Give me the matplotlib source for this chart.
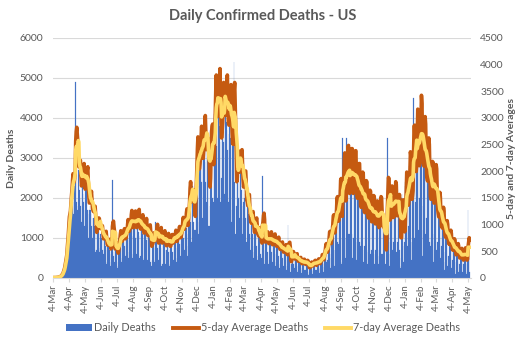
import pandas as pd
import matplotlib.pyplot as plt
from matplotlib.patches import Patch
from matplotlib.lines import Line2D

plt.rcParams['font.family'] = ['Lato', 'DejaVu Sans']

# Daily confirmed deaths, one row per week (Sunday .. Saturday), starting Sun 1 Mar 2020
start_date = "2020-03-01"

deaths_2020 = [
    1, 1, 1, 2, 2, 1, 3,
    3, 4, 6, 7, 9, 11, 14,
    12, 20, 30, 40, 55, 70, 80,
    100, 140, 200, 230, 260, 380, 480,
    450, 560, 900, 1050, 1150, 1300, 1300,
    1200, 1300, 1950, 1950, 1900, 2050, 1900,
    1600, 1500, 2300, 2500, 4900, 2500, 1900,
    1700, 1800, 2700, 2300, 2200, 2000, 1800,
    1200, 1400, 2400, 2600, 2100, 1900, 1700,
    1300, 1300, 2300, 2500, 2300, 1700, 1600,
    1000, 1000, 1700, 1800, 1700, 1600, 1300,
    900, 1000, 1500, 1500, 1300, 1300, 1100,
    650, 500, 700, 1500, 1200, 1200, 1000,
    650, 750, 1100, 1100, 1000, 950, 700,
    400, 600, 1000, 950, 900, 800, 700,
    350, 400, 800, 800, 700, 700, 600,
    300, 400, 850, 800, 2450, 650, 550,
    300, 400, 800, 750, 700, 650, 300,
    250, 400, 1000, 900, 900, 850, 750,
    400, 500, 950, 1000, 950, 900, 800,
    450, 550, 1100, 1150, 1150, 1100, 950,
    500, 650, 1300, 1400, 1300, 1250, 1050,
    500, 600, 1300, 1400, 1300, 1250, 1000,
    550, 600, 1350, 1500, 1350, 1150, 1050,
    500, 550, 1300, 1350, 1200, 1100, 950,
    450, 500, 1200, 1200, 1150, 1050, 950,
    400, 450, 1100, 1050, 1000, 1000, 800,
    400, 300, 450, 1150, 900, 950, 750,
    400, 450, 1400, 1100, 900, 850, 750,
    300, 450, 1000, 1100, 950, 900, 750,
    300, 350, 1000, 950, 850, 900, 700,
    350, 350, 700, 950, 950, 900, 650,
    350, 300, 750, 900, 850, 900, 650,
    400, 450, 900, 1050, 850, 900, 750,
    400, 500, 1000, 1000, 1000, 950, 850,
    400, 550, 1100, 1200, 1150, 1200, 1000,
    500, 700, 1500, 1400, 1200, 1250, 1100,
    550, 800, 1700, 2000, 2000, 1900, 1400,
    900, 900, 2200, 2300, 1100, 1400, 1200,
    850, 1200, 2600, 2800, 2900, 2600, 2300,
    1100, 1400, 2800, 3100, 3000, 2900, 2400,
    1400, 1500, 3000, 3600, 3300, 2900, 2400,
    1500, 1900, 3400, 3400, 2900, 1300, 1200,
    1300, 1800, 3700, 3400, 3400, 1900, 2000,
]

deaths_2021 = [
    1400, 1900, 3700, 4100, 4000, 3900, 3300,
    1900, 2000, 4400, 4100, 3900, 3800, 3400,
    1900, 1500, 2500, 4400, 4200, 3800, 3400,
    1800, 2100, 4100, 4100, 3900, 3700, 3200,
    1900, 1900, 3600, 3900, 4400, 3500, 2700,
    1400, 1700, 3300, 3400, 3800, 5400, 2400,
    1100, 1100, 1800, 2600, 2800, 2700, 2000,
    1300, 1500, 2400, 3000, 2600, 2200, 1800,
    1100, 1500, 1900, 2500, 2000, 2100, 1500,
    750, 900, 1900, 1700, 1600, 1500, 1100,
    600, 700, 1300, 1400, 1600, 1100, 800,
    500, 650, 1200, 1300, 1200, 1100, 800,
    450, 550, 1100, 1000, 1100, 900, 600,
    300, 500, 950, 2550, 950, 900, 700,
    350, 450, 950, 950, 900, 850, 650,
    350, 450, 950, 950, 900, 850, 650,
    300, 400, 900, 900, 900, 800, 600,
    300, 400, 850, 850, 800, 750, 550,
    250, 350, 750, 750, 700, 650, 500,
    250, 300, 700, 700, 650, 600, 450,
    200, 300, 600, 1320, 550, 500, 350,
    150, 150, 350, 700, 550, 500, 350,
    150, 250, 500, 550, 450, 450, 300,
    150, 200, 450, 450, 400, 350, 250,
    120, 200, 400, 400, 380, 350, 200,
    120, 200, 400, 380, 350, 300, 150,
    80, 100, 300, 350, 320, 300, 200,
    100, 180, 380, 400, 330, 320, 200,
    110, 200, 420, 400, 380, 350, 220,
    120, 250, 500, 500, 450, 450, 280,
    150, 350, 700, 750, 700, 650, 400,
    200, 450, 950, 1050, 950, 900, 500,
    250, 600, 1300, 1400, 1300, 1200, 700,
    300, 700, 1700, 1800, 1600, 1600, 900,
    350, 850, 2100, 2200, 2000, 2000, 1000,
    350, 400, 3500, 2500, 2400, 2300, 1000,
    500, 1000, 3500, 2700, 2600, 2500, 1100,
    600, 1100, 2800, 2900, 2700, 2600, 1100,
    500, 1000, 2800, 2800, 2700, 2600, 1000,
    450, 900, 2500, 2600, 2400, 2300, 900,
    400, 800, 2200, 2600, 2200, 2100, 700,
    400, 800, 2100, 2200, 2000, 2000, 650,
    350, 700, 1900, 2000, 1800, 1800, 600,
    350, 700, 1800, 1800, 1700, 1700, 600,
    350, 700, 1700, 1700, 1600, 1500, 550,
    350, 700, 1800, 1800, 1700, 1600, 600,
    350, 600, 1700, 1600, 400, 900, 350,
    250, 700, 1600, 3500, 1900, 1700, 600,
    300, 900, 2000, 2000, 1900, 1800, 700,
    350, 900, 2100, 2100, 2000, 1900, 650,
    350, 900, 2100, 2100, 2000, 700, 300,
    250, 500, 2000, 2100, 1900, 800, 400,
]

deaths_2022 = [
    300, 900, 2300, 2400, 2200, 2100, 800,
    400, 1300, 2600, 2800, 2600, 2500, 900,
    450, 900, 2900, 3000, 4500, 2900, 1000,
    550, 1900, 3600, 3600, 3400, 3300, 1200,
    600, 2000, 3900, 3900, 3700, 3600, 1200,
    550, 1800, 3500, 3400, 3300, 3100, 1100,
    450, 1500, 3000, 3000, 2900, 2700, 900,
    350, 800, 2600, 2700, 2500, 2300, 700,
    400, 1100, 2500, 2500, 2300, 2200, 700,
    300, 900, 1900, 1900, 1700, 1600, 500,
    250, 800, 1600, 1500, 1400, 1300, 400,
    200, 650, 1300, 1200, 1100, 1100, 300,
    150, 550, 1100, 1000, 900, 900, 250,
    120, 450, 900, 850, 750, 700, 200,
    100, 400, 800, 750, 650, 600, 150,
    100, 350, 700, 650, 550, 500, 150,
    100, 350, 750, 650, 550, 500, 150,
    100, 350, 650, 1700, 550, 500, 150,
]

all_deaths = deaths_2020 + deaths_2021 + deaths_2022
deaths = pd.Series(all_deaths, index=pd.date_range(start_date, periods=len(all_deaths), freq="D"))
avg_5 = deaths.rolling(5, min_periods=1).mean()
avg_7 = deaths.rolling(7, min_periods=1).mean()

tick_dates = pd.date_range("2020-03-04", "2022-05-04", freq=pd.DateOffset(months=1))
tick_labels = [f"{d.day}-{d.strftime('%b')}" for d in tick_dates]

blue = "#4472C4"
orange = "#C55A11"
yellow = "#FFD966"
grey = "#595959"

fig = plt.figure(figsize=(5.26, 3.42), dpi=100)
ax = fig.add_axes([0.1008, 0.188, 0.7937, 0.7018])

# thin edge in the fill colour keeps neighbouring bars solid
ax.bar(deaths.index, deaths.values, width=1.0, color=blue, edgecolor=blue,
       linewidth=0.15, zorder=2)
ax.set_ylim(0, 6000)
ax.set_yticks(range(0, 6001, 1000))
ax.grid(axis="y", color="#D9D9D9", linewidth=0.8, zorder=0)
ax.set_axisbelow(True)
for side in ["top", "right", "left"]:
    ax.spines[side].set_visible(False)
ax.spines["bottom"].set_color("#D9D9D9")
ax.set_xticks(tick_dates)
ax.set_xticklabels(tick_labels, rotation=90)
ax.set_xlim(pd.Timestamp("2020-03-03 18:00"), pd.Timestamp("2022-05-08 12:00"))
ax.tick_params(axis="x", length=3, color="#D9D9D9", pad=2, labelsize=7, labelcolor=grey)
ax.tick_params(axis="y", length=0, pad=7, labelsize=7.5, labelcolor=grey)

# 5-day and 7-day averages on the secondary axis
ax2 = ax.twinx()
ax2.plot(avg_5.index, avg_5.values, color=orange, linewidth=2.6)
ax2.plot(avg_7.index, avg_7.values, color=yellow, linewidth=2.6)
ax2.set_ylim(0, 4500)
ax2.set_yticks(range(0, 4501, 500))
for side in ["top", "right", "left", "bottom"]:
    ax2.spines[side].set_visible(False)
ax2.tick_params(axis="y", length=0, pad=7, labelsize=7.5, labelcolor=grey)

fig.text(0.5, 0.953, "Daily Confirmed Deaths - US", ha="center", va="center",
         fontsize=10.5, fontweight="bold", color=grey)
fig.text(0.0228, 0.538, "Daily Deaths", rotation=90, ha="center", va="center",
         fontsize=7.5, fontweight="bold", color=grey)
fig.text(0.973, 0.538, "5-day and 7-day Averages", rotation=90, ha="center", va="center",
         fontsize=7.5, fontweight="bold", color=grey)

handles = [
    Patch(facecolor=blue, label="Daily Deaths"),
    Line2D([], [], color=orange, linewidth=2.8, label="5-day Average Deaths"),
    Line2D([], [], color=yellow, linewidth=2.8, label="7-day Average Deaths"),
]
fig.legend(handles=handles, loc="center", bbox_to_anchor=(0.5, 0.041), ncol=3,
           frameon=False, fontsize=7.8, handlelength=2.4, handleheight=0.6,
           columnspacing=1.6, handletextpad=0.2, labelcolor=grey)

fig.savefig("out.png", dpi=100)
